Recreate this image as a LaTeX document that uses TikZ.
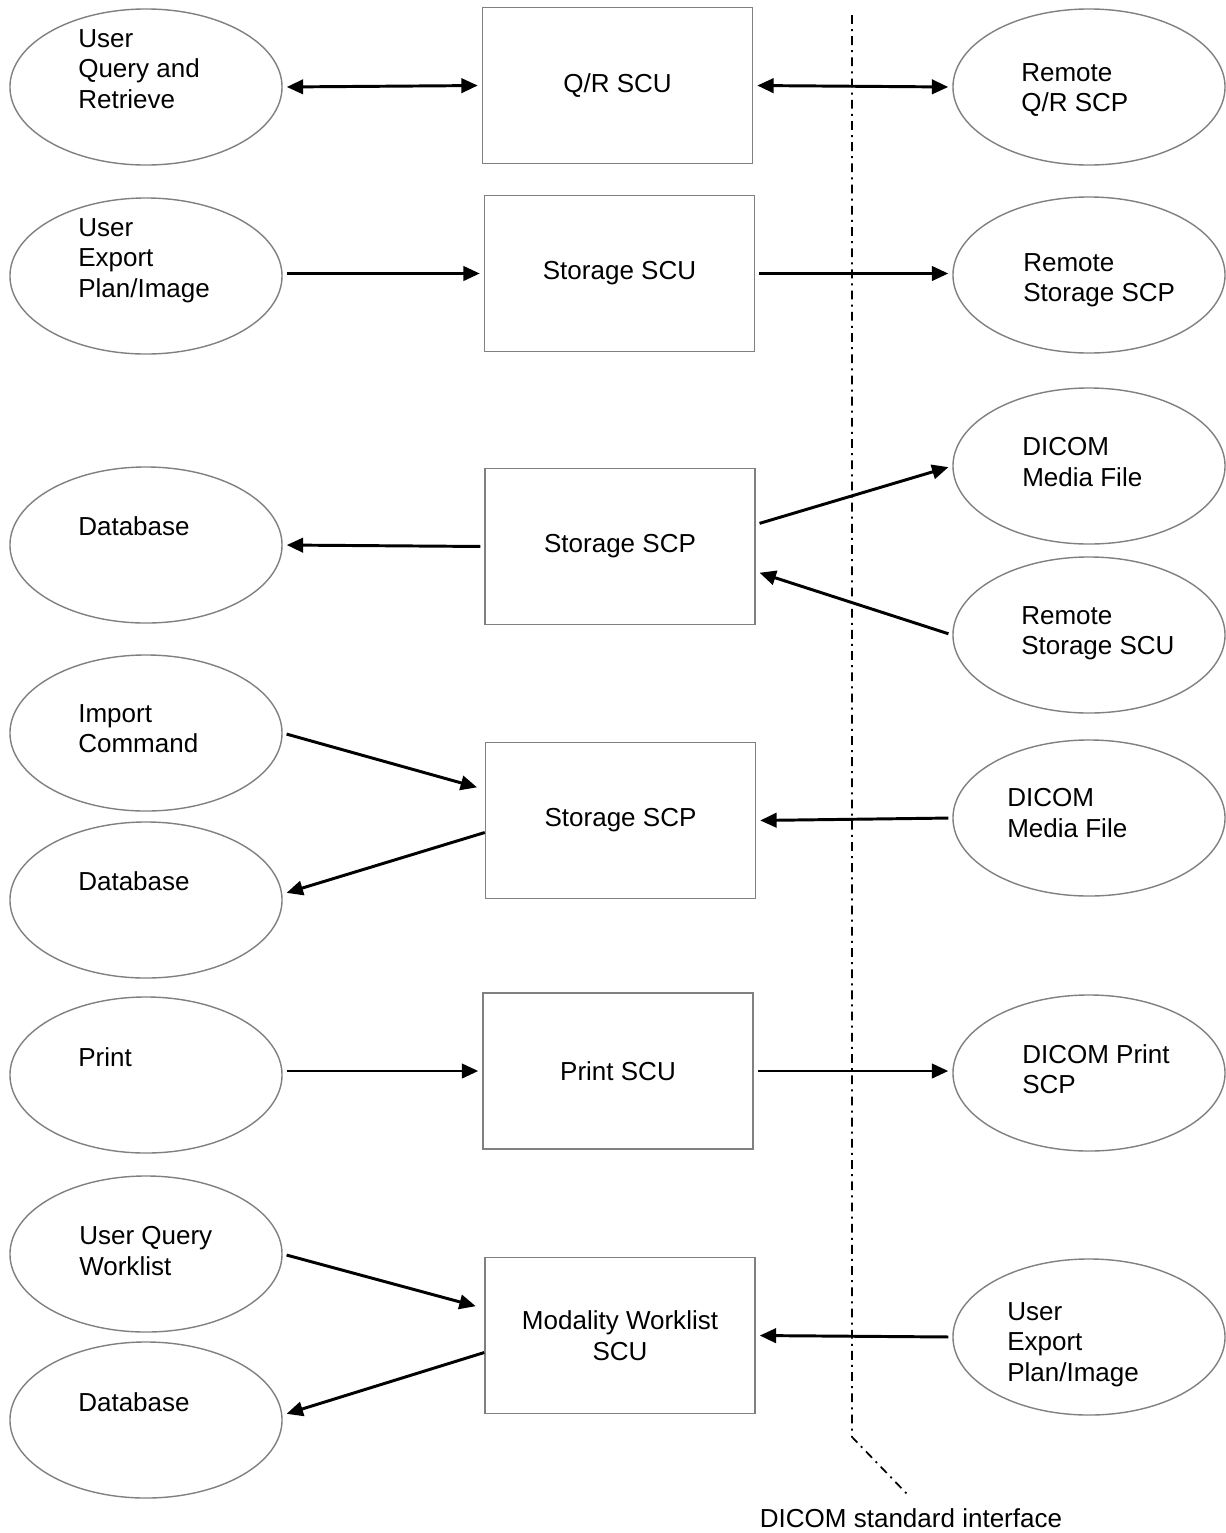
\documentclass[tikz,border=0pt]{standalone}
\usepackage{fontspec}
\setmainfont{Liberation Sans}
\usepackage{xcolor}
\usepackage{tikz}
\usetikzlibrary{shapes.geometric, arrows.meta, positioning, calc}
\definecolor{bordergray}{RGB}{128, 128, 128}
\tikzstyle{oval} = [
    ellipse,
    minimum width=6.8cm,
    minimum height=3.9cm,
    inner sep=0pt,
    draw=bordergray,
    line width=1pt
]
\tikzstyle{block} = [
    rectangle,
    minimum width=6.75cm,
    minimum height=3.9cm,
    align=center,
    draw=bordergray,
    line width=1pt
]
\tikzstyle{ovaltext} = [
    anchor=north west,
    inner sep=0pt,
    align=left
]
\tikzstyle{arrow} = [
    line width=2.1pt,
    -{Triangle[length=0.41cm, width=0.36cm]},
    shorten <=0.1cm,
    shorten >=0.1cm,
    color=black
]
\tikzstyle{twoway} = [
    arrow,
    {Triangle[length=0.41cm, width=0.36cm]}-{Triangle[length=0.41cm, width=0.36cm]}
]
\tikzstyle{interface} = [
    line width=1.2pt,
    dash pattern=on 0.22cm off 0.13cm on 0.05cm off 0.13cm
]

\begin{document}
\begin{tikzpicture}[x=0.025cm, y=-0.025cm, font=\fontsize{18.5}{21.9}\selectfont]
        \useasboundingbox (0,0) rectangle (1225,1533);

        % Interface line
        \coordinate (ifacetop) at (852,15);
        \coordinate (ifacebend) at (852,1437);
        \coordinate (ifaceend) at (908,1495);
        \node[anchor=base] (ifacelbl) at (911,1527) {DICOM standard interface};
        \draw[interface] (ifacetop) -- (ifacebend) -- (ifaceend);

        % Services
        \node[block] (qrscu) at (617.5,85.5) {Q/R SCU};
        \node[block] (stscu) at (619.5,273.5) {Storage SCU};
        \node[block] (stscp1) at (620,546.5) {Storage SCP};
        \node[block] (stscp2) at (620.5,820.5) {Storage SCP};
        \node[block] (prscu) at (618,1071) {Print SCU};
        \node[block] (mwl) at (620,1335.5) {Modality Worklist\\SCU};

        % Local side
        \node[oval] (uqr) at (146,87) {};
        \node[ovaltext] (uqrtext) at (78,29) {User\\Query and\\Retrieve};
        \node[oval] (uexp) at (146,276) {};
        \node[ovaltext] (uexptext) at (78,218) {User\\Export\\Plan/Image};
        \node[oval] (db1) at (146,545) {};
        \node[ovaltext] (db1text) at (78,516) {Database};
        \node[oval] (imp) at (146,733) {};
        \node[ovaltext] (imptext) at (78,704) {Import\\Command};
        \node[oval] (db2) at (146,900) {};
        \node[ovaltext] (db2text) at (78,871) {Database};
        \node[oval] (prt) at (146,1075) {};
        \node[ovaltext] (prttext) at (78,1047) {Print};
        \node[oval] (uqw) at (146,1254) {};
        \node[ovaltext] (uqwtext) at (79,1226) {User Query\\Worklist};
        \node[oval] (db3) at (146,1420) {};
        \node[ovaltext] (db3text) at (78,1392) {Database};

        % Remote side
        \node[oval] (rqr) at (1089,87) {};
        \node[ovaltext] (rqrtext) at (1021,63) {Remote\\Q/R SCP};
        \node[oval] (rstscp) at (1089,275) {};
        \node[ovaltext] (rstscptext) at (1023,253) {Remote\\Storage SCP};
        \node[oval] (dmf1) at (1089,466) {};
        \node[ovaltext] (dmf1text) at (1022,437) {DICOM\\Media File};
        \node[oval] (rstscu) at (1089,635) {};
        \node[ovaltext] (rstscutext) at (1021,606) {Remote\\Storage SCU};
        \node[oval] (dmf2) at (1089,818) {};
        \node[ovaltext] (dmf2text) at (1007,788) {DICOM\\Media File};
        \node[oval] (dps) at (1089,1073) {};
        \node[ovaltext] (dpstext) at (1022,1044) {DICOM Print\\SCP};
        \node[oval] (uexp2) at (1089,1337) {};
        \node[ovaltext] (uexp2text) at (1007,1302) {User\\Export\\Plan/Image};

        % Arrows
        \draw[twoway] (uqr.east) -- (qrscu.west);
        \draw[twoway] (qrscu.east) -- (rqr.west);
        \draw[arrow] (uexp.east |- stscu.west) -- (stscu.west);
        \draw[arrow] (stscu.east) -- (rstscp.west |- stscu.east);
        \draw[arrow] (stscp1.west) -- (db1.east);
        \draw[arrow] ($(stscp1.east)+(0,-22)$) -- (dmf1.west);
        \draw[arrow] (rstscu.west) -- ($(stscp1.east)+(0,25)$);
        \draw[arrow, shorten >=0.2cm] (imp.east) -- ($(stscp2.west)+(0,-31)$);
        \draw[arrow, shorten <=0pt] ($(stscp2.west)+(0,12)$) -- ($(db2.east)+(0,-6)$);
        \draw[arrow] (dmf2.west) -- (stscp2.east);
        \draw[arrow] (prt.east |- prscu.west) -- (prscu.west);
        \draw[arrow] (prscu.east) -- (dps.west |- prscu.east);
        \draw[arrow, shorten >=0.22cm] (uqw.east) -- ($(mwl.west)+(0,-27)$);
        \draw[arrow, shorten <=0pt] ($(mwl.west)+(0,17)$) -- ($(db3.east)+(0,-5)$);
        \draw[arrow] (uexp2.west) -- (mwl.east);
    \end{tikzpicture}
\end{document}
